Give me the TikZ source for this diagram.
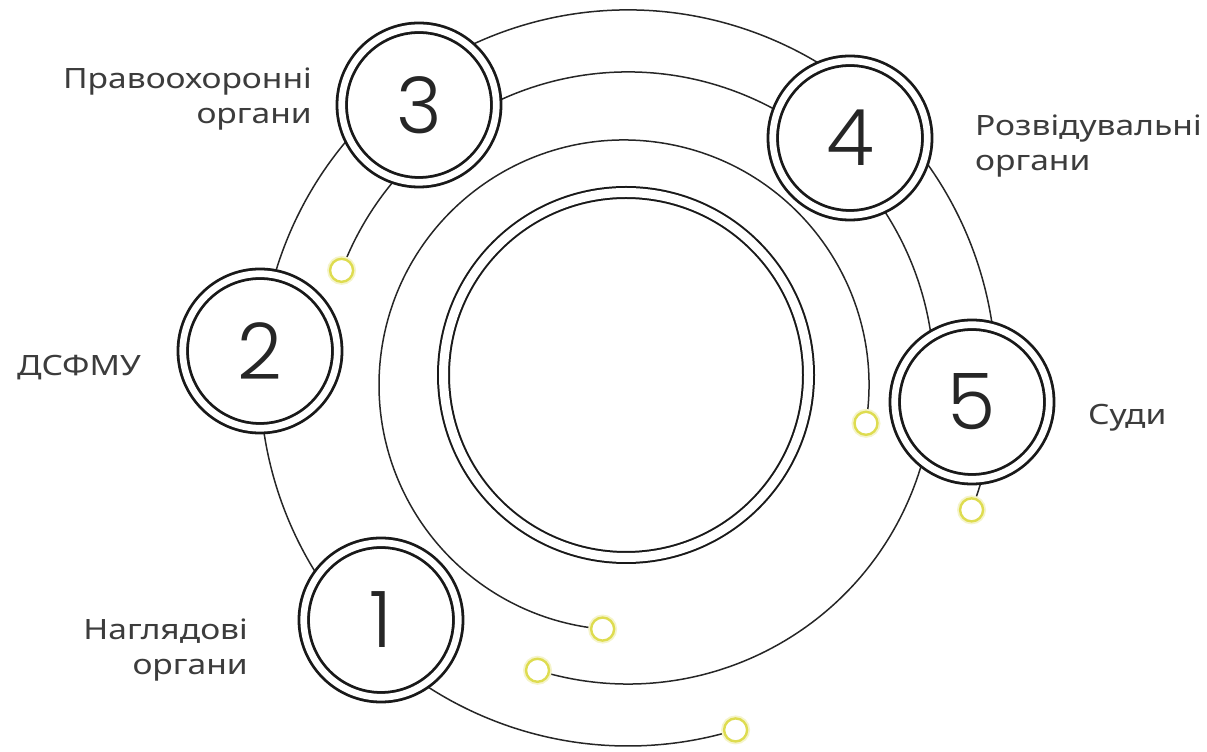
\documentclass[tikz,border=0pt]{standalone}
\usepackage{fontspec}
\setmainfont{Noto Sans}
\IfFontExistsTF{Poppins-Light.otf}{\newfontfamily\digfont{Poppins-Light.otf}}{%
 \IfFontExistsTF{Poppins-Light.ttf}{\newfontfamily\digfont{Poppins-Light.ttf}}{%
  \IfFontExistsTF{Poppins-ExtraLight.otf}{\newfontfamily\digfont{Poppins-ExtraLight.otf}}{%
   \IfFontExistsTF{Poppins-ExtraLight.ttf}{\newfontfamily\digfont{Poppins-ExtraLight.ttf}}{%
    \newfontfamily\digfont{Poppins}}}}}
\newfontfamily\labfont{Noto Sans}[FakeStretch=1.2]
\usetikzlibrary{calc}
\definecolor{ylw}{RGB}{222,220,80}
\definecolor{txt}{RGB}{60,60,60}
\begin{document}
\begin{tikzpicture}[x=1pt,y=1pt,
  arcline/.style={line width=1.5pt, draw=black!85},
  numcircle/.style={circle, draw=black!90, line width=2.8pt, double=white, double distance=6.7pt, fill=white, minimum size=154.5pt, inner sep=0pt, text=black!85, font=\digfont\fontsize{78}{80}\selectfont},
  ydot/.style={circle, draw=ylw, line width=2.4pt, fill=white, minimum size=23pt, inner sep=0pt, preaction={draw=ylw!30, line width=6pt}},
  lab/.style={font=\labfont\fontsize{28}{35}\selectfont, text=txt, inner sep=0pt}
]
\useasboundingbox (0,0) rectangle (1207,752);
\coordinate (O) at (628,374);
\coordinate (Oc) at (624,367);
\node[circle, draw=black!90, line width=2pt, double=white, double distance=9pt, minimum size=365pt, inner sep=0pt] (core) at (626,377) {};
% arc ends
\coordinate (a1) at ($(O)+(-21:368)$);
\coordinate (a2) at ($(O)+(287:368)$);
\coordinate (b1) at ($(O)+(159.4:306)$);
\coordinate (b2) at ($(O)+(-107.2:306)$);
\coordinate (c1) at ($(Oc)+(-9:245)$);
\coordinate (c2) at ($(Oc)+(265:245)$);
% arcs
\draw[arcline] (a1) arc[start angle=-21, end angle=287, radius=368];
\draw[arcline] (b1) arc[start angle=159.4, end angle=-107.2, radius=306];
\draw[arcline] (c1) arc[start angle=-9, end angle=265, radius=245];
% numbered circles
\node[numcircle] (n1) at (381,132) {1};
\node[numcircle] (n2) at (260,401) {2};
\node[numcircle] (n3) at (419,647) {3};
\node[numcircle] (n4) at (850,614) {4};
\node[numcircle] (n5) at (972,350) {5};
% yellow dots
\node[ydot] (ya1) at (a1) {};
\node[ydot] (ya2) at (a2) {};
\node[ydot] (yb1) at (b1) {};
\node[ydot] (yb2) at (b2) {};
\node[ydot] (yc1) at (c1) {};
\node[ydot] (yc2) at (c2) {};
% labels
\node[lab, align=right, anchor=east] (l3) at (312,653) {Правоохоронні\\органи};
\node[lab, align=left, anchor=west] (l4) at (975,606) {Розвідувальні\\органи};
\node[lab, anchor=west] (l2) at (17,384) {ДСФМУ};
\node[lab, anchor=west] (l5) at (1088,334) {Суди};
\node[lab, align=right, anchor=east] (l1) at (248,102) {Наглядові\\органи};
\end{tikzpicture}
\end{document}
